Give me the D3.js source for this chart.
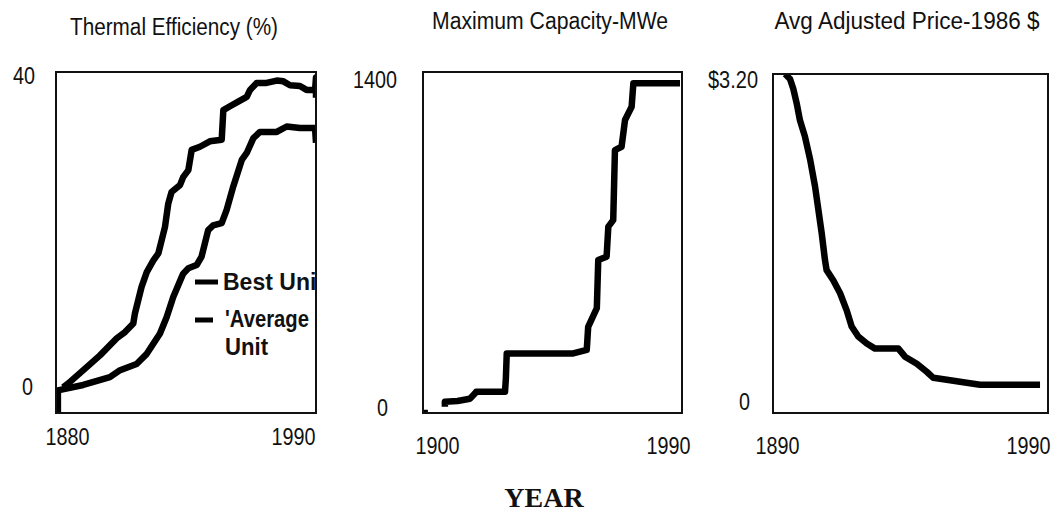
<!DOCTYPE html>
<html>
<head>
<meta charset="utf-8">
<script src="https://cdn.jsdelivr.net/npm/d3@7"></script>
<style>
  body { margin: 0; background: #fff; }
  svg { display: block; }
  .lbl { font-family: "Liberation Sans", Arial, sans-serif; fill: #111; }
  .leg { font-family: "Liberation Sans", Arial, sans-serif; font-weight: bold; fill: #111; }
</style>
</head>
<body>
<div id="chart"></div>
<script>
// data: [year, value]
var titles = ["Thermal Efficiency (%)", "Maximum Capacity-MWe", "Avg Adjusted Price-1986 $"];

var effTicksX = [1880, 1990];
var effTicksY = [0, 40];
var capTicksX = [1900, 1990];
var capTicksY = [0, 1400];
var priceTicksX = [1890, 1990];
var priceTicksY = [0, 3.2];

var bestUnit = [
  [1883, 0.0], [1885.2, 0.5], [1893, 2.6], [1898.6, 4.1], [1905.7, 6.3], [1909.2, 7.1],
  [1912.7, 8.2], [1913.4, 9.5], [1914.8, 11.2], [1916.2, 12.9], [1918.4, 14.8],
  [1921.2, 16.3], [1923.3, 17.2], [1924.7, 18.9], [1926.1, 20.6], [1927.5, 23.6],
  [1928.9, 25.1], [1932.5, 26.0], [1933.8, 27.0], [1936, 27.9], [1937.4, 30.5],
  [1940.9, 30.9], [1945.1, 31.6], [1950.1, 31.8], [1950.8, 35.6], [1953.6, 36.1],
  [1957.1, 36.7], [1960.7, 37.3], [1962.1, 38.2], [1964.9, 39.1], [1969.1, 39.1],
  [1973.4, 39.4], [1976.2, 39.3], [1979, 38.8], [1983.2, 38.7], [1986, 38.2],
  [1989.6, 38.2], [1990, 39.8], [1990, 37.2]
];

var averageUnit = [
  [1880.8, -3.3], [1880.8, -0.4], [1891.5, 0.3], [1902.8, 1.3], [1907.1, 2.2],
  [1914.1, 3.0], [1918.4, 4.3], [1924, 6.9], [1926.8, 9.0], [1929.6, 11.6],
  [1933.8, 14.6], [1936, 15.3], [1939.5, 15.7], [1941.6, 16.8], [1944.4, 20.2],
  [1946.5, 20.8], [1950.1, 21.1], [1952.2, 22.8], [1955, 25.8], [1958.6, 29.2],
  [1960.7, 30.1], [1963.5, 32.0], [1966.3, 32.8], [1973.4, 32.8], [1977.6, 33.5],
  [1983.2, 33.3], [1989.6, 33.3], [1990, 31.4]
];

var maxCapacity = [
  [1900, -21], [1901.7, -21], null,
  [1907.6, 6], [1907.6, 27], [1912, 30], [1916.3, 40], [1918.1, 63], [1918.5, 70],
  [1928.5, 70], [1928.8, 127], [1929.1, 233], [1952.2, 233], [1956.9, 248],
  [1957.4, 347], [1960.4, 426], [1960.9, 632], [1963.8, 646], [1964.4, 774],
  [1966.1, 802], [1966.7, 1101], [1969, 1115], [1970.2, 1229], [1972.5, 1286],
  [1973.1, 1386], [1989.3, 1386]
];

var avgPrice = [
  [1894.4, 3.26], [1896.2, 3.21], [1897.4, 3.11], [1898.6, 2.97], [1899.8, 2.80],
  [1901.6, 2.64], [1903.5, 2.41], [1905.3, 2.14], [1906.5, 1.91], [1907.7, 1.68],
  [1908.9, 1.41], [1909.5, 1.31], [1911.9, 1.21], [1914.4, 1.08], [1916.8, 0.91],
  [1918.6, 0.75], [1921, 0.65], [1924.1, 0.58], [1927.1, 0.53], [1935.6, 0.53],
  [1938, 0.45], [1942.3, 0.38], [1945.9, 0.30], [1948.3, 0.24], [1953.2, 0.22],
  [1960.4, 0.19], [1965.3, 0.17], [1987.1, 0.17]
];

var legendLabels = ["Best Unit", "'Average", "Unit"];

var svgWidth = 1057;
var svgHeight = 512;

var svg = d3.select("#chart")
  .append("svg")
  .attr("width", svgWidth)
  .attr("height", svgHeight);

// squeeze a label to the narrow width of the old screen font
function narrow(sel, perChar) {
  sel.attr("textLength", function() {
    var t = this.textContent;
    return t.length * perChar - (t.indexOf(".") >= 0 ? 5 : 0);
  }).attr("lengthAdjust", "spacingAndGlyphs");
}

// panel boxes and label offsets
var panels = [
  { left: 56, right: 316, top: 72, bottom: 413, xDomain: [1880, 1990], yDomain: [-3.3, 40.5],
    ticksX: effTicksX, ticksY: effTicksY, series: [bestUnit, averageUnit],
    titleX: 174, titleY: 27, titleW: 208, yPad: 21, zeroDx: -2,
    firstDx: -11, lastDx: -1, xLabelY: 437, fmt: d3.format("d") },
  { left: 423, right: 682, top: 72, bottom: 413, xDomain: [1900, 1990], yDomain: [-21, 1434],
    ticksX: capTicksX, ticksY: capTicksY, series: [maxCapacity],
    titleX: 550, titleY: 21, titleW: 236, yPad: 26, zeroDx: -9,
    firstDx: -8, lastDx: 8, xLabelY: 446, fmt: d3.format("d") },
  { left: 773, right: 1048, top: 74, bottom: 413, xDomain: [1890, 1990], yDomain: [-0.11, 3.26],
    ticksX: priceTicksX, ticksY: priceTicksY, series: [avgPrice],
    titleX: 907, titleY: 21, titleW: 265, yPad: 15, zeroDx: -8,
    firstDx: -18, lastDx: 2, xLabelY: 446, fmt: function(d) { return d === 0 ? "0" : "$" + d.toFixed(2); } }
];

panels.forEach(function(p, i) {
  var x = d3.scaleLinear().domain(p.xDomain).range([p.left, p.right]);
  var y = d3.scaleLinear().domain(p.yDomain).range([p.bottom, p.top]);

  svg.append("clipPath")
    .attr("id", "clip" + i)
    .append("rect")
    .attr("x", p.left).attr("y", p.top)
    .attr("width", p.right - p.left).attr("height", p.bottom - p.top);

  // title
  svg.append("text")
    .attr("class", "lbl")
    .attr("x", p.titleX)
    .attr("y", p.titleY)
    .attr("dy", "0.35em")
    .attr("text-anchor", "middle")
    .attr("font-size", "23px")
    .attr("textLength", p.titleW)
    .attr("lengthAdjust", "spacingAndGlyphs")
    .text(titles[i]);

  // lines
  var line = d3.line()
    .defined(function(d) { return d !== null; })
    .x(function(d) { return x(d[0]); })
    .y(function(d) { return y(d[1]); });

  var plot = svg.append("g").attr("clip-path", "url(#clip" + i + ")");
  p.series.forEach(function(s) {
    plot.append("path")
      .datum(s)
      .attr("d", line)
      .attr("fill", "none")
      .attr("stroke", "#000")
      .attr("stroke-width", 6.5)
      .attr("stroke-linejoin", "round");
  });

  // box
  svg.append("rect")
    .attr("x", p.left).attr("y", p.top)
    .attr("width", p.right - p.left).attr("height", p.bottom - p.top)
    .attr("fill", "none")
    .attr("stroke", "#111")
    .attr("stroke-width", 2);

  // y axis
  var yAxis = svg.append("g")
    .attr("transform", "translate(" + p.left + ",0)")
    .call(d3.axisLeft(y).tickValues(p.ticksY).tickSize(0).tickPadding(p.yPad).tickFormat(p.fmt));
  yAxis.select(".domain").remove();
  yAxis.selectAll("text")
    .attr("class", "lbl")
    .attr("font-size", "23px")
    .attr("fill", "#111")
    .attr("dx", function(d) { return d === 0 ? p.zeroDx : 0; })
    .call(narrow, 11);

  // x axis
  var xAxis = svg.append("g")
    .attr("transform", "translate(0," + p.xLabelY + ")")
    .call(d3.axisBottom(x).tickValues(p.ticksX).tickSize(0).tickFormat(d3.format("d")));
  xAxis.select(".domain").remove();
  xAxis.selectAll("text")
    .attr("class", "lbl")
    .attr("font-size", "23px")
    .attr("fill", "#111")
    .attr("y", 0)
    .attr("dy", "0.35em")
    .attr("text-anchor", function(d, j) { return j === 0 ? "start" : "end"; })
    .attr("dx", function(d, j) { return j === 0 ? p.firstDx : p.lastDx; })
    .call(narrow, 11);
});

// legend inside the first panel, clipped by its box
var legend = svg.append("g").attr("clip-path", "url(#clip0)");
legend.append("line")
  .attr("x1", 195).attr("x2", 218).attr("y1", 282).attr("y2", 282)
  .attr("stroke", "#000").attr("stroke-width", 5);
legend.append("line")
  .attr("x1", 195).attr("x2", 213).attr("y1", 320).attr("y2", 320)
  .attr("stroke", "#000").attr("stroke-width", 5);
legend.selectAll("text.leg")
  .data(legendLabels)
  .enter()
  .append("text")
  .attr("class", "leg")
  .attr("x", function(d, j) { return j === 0 ? 223 : 225; })
  .attr("y", function(d, j) { return [282, 319, 347][j]; })
  .attr("dy", "0.35em")
  .attr("font-size", "23px")
  .attr("textLength", function(d, j) { return [101, 84, 43][j]; })
  .attr("lengthAdjust", "spacingAndGlyphs")
  .text(function(d) { return d; });

svg.append("text")
  .attr("x", 544)
  .attr("y", 497)
  .attr("dy", "0.35em")
  .attr("text-anchor", "middle")
  .attr("font-family", "'Liberation Serif', 'Times New Roman', serif")
  .attr("font-weight", "bold")
  .attr("font-size", "28px")
  .attr("fill", "#111")
  .text("YEAR");
</script>
</body>
</html>
